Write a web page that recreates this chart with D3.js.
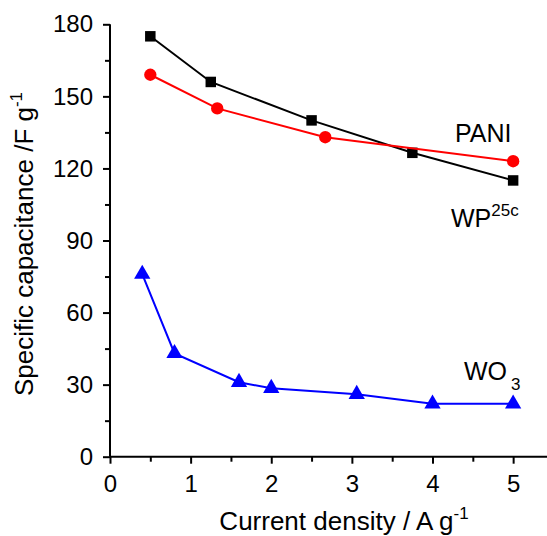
<!DOCTYPE html>
<html><head><meta charset="utf-8">
<script src="https://cdn.jsdelivr.net/npm/d3@7"></script>
<style>html,body{margin:0;padding:0;background:#fff;}svg{display:block;font-family:"Liberation Sans",Arial,sans-serif;}</style>
</head><body>
<svg id="c" width="547" height="536"></svg>
<script>
const wpX = [0.5, 1.25, 2.5, 3.75, 5.0];
const wpY = [175, 156, 140, 126.5, 115];
const paniX = [0.5, 1.33, 2.67, 5.0];
const paniY = [159, 145, 133, 123];
const wo3X = [0.4, 0.8, 1.6, 2.0, 3.06, 4.0, 5.0];
const wo3Y = [76, 43, 31, 28.5, 26, 22, 22];
const xTicks = [0, 1, 2, 3, 4, 5];
const xMinor = [0.5, 1.5, 2.5, 3.5, 4.5];
const yTicks = [0, 30, 60, 90, 120, 150, 180];
const yMinor = [15, 45, 75, 105, 135, 165];

const F = '"Liberation Sans",Arial,sans-serif';
const svg = d3.select("#c");
const x = d3.scaleLinear().domain([0, 5.42]).range([110, 547]);
const y = d3.scaleLinear().domain([0, 180]).range([456.7, 24.3]);

svg.append("g").attr("transform", `translate(0,${y(0)})`)
  .call(d3.axisBottom(x).tickValues(xTicks).tickSize(7).tickPadding(11).tickFormat(d3.format("d")));
svg.append("g").attr("transform", `translate(0,${y(0)})`)
  .call(d3.axisBottom(x).tickValues(xMinor).tickSize(5).tickFormat(""));
svg.append("g").attr("transform", `translate(${x(0)},0)`)
  .call(d3.axisLeft(y).tickValues(yTicks).tickSize(7).tickPadding(10));
svg.append("g").attr("transform", `translate(${x(0)},0)`)
  .call(d3.axisLeft(y).tickValues(yMinor).tickSize(5).tickFormat(""));
svg.selectAll(".domain").remove();
svg.selectAll(".tick line").attr("stroke", "#000").attr("stroke-width", 2);
svg.selectAll(".tick text").attr("font-size", 24).attr("fill", "#000").attr("font-family", F);
svg.append("line").attr("x1", x(0)).attr("x2", 547).attr("y1", y(0)).attr("y2", y(0)).attr("stroke", "#000").attr("stroke-width", 2);
svg.append("line").attr("x1", x(0)).attr("x2", x(0)).attr("y1", y(0)).attr("y2", y(180)).attr("stroke", "#000").attr("stroke-width", 2);

const line = d3.line().x(d => x(d[0])).y(d => y(d[1]));
function series(xs, ys, color, shape, size) {
  const pts = xs.map((v, i) => [v, ys[i]]);
  svg.append("path").datum(pts).attr("d", line).attr("fill", "none").attr("stroke", color).attr("stroke-width", 2);
  svg.append("g").selectAll("path").data(pts).join("path")
    .attr("transform", d => `translate(${x(d[0])},${y(d[1])})`)
    .attr("d", d3.symbol().type(shape).size(size))
    .attr("fill", color);
}
series(wpX, wpY, "#000", d3.symbolSquare, 110);
series(paniX, paniY, "#ff0000", d3.symbolCircle, 120);
series(wo3X, wo3Y, "#0000ff", d3.symbolTriangle, 115);

svg.append("text").attr("x", 455).attr("y", 142).attr("font-size", 25).attr("font-family", F).text("PANI");
const wp = svg.append("text").attr("x", 451).attr("y", 227).attr("font-size", 25).attr("font-family", F);
wp.append("tspan").text("WP");
wp.append("tspan").attr("dy", -11).attr("font-size", 17).text("25c");
const wo = svg.append("text").attr("x", 464).attr("y", 380).attr("font-size", 25).attr("font-family", F);
wo.append("tspan").text("WO");
wo.append("tspan").attr("dx", 4).attr("dy", 10).attr("font-size", 17).text("3");

const xt = svg.append("text").attr("x", 344).attr("y", 530).attr("text-anchor", "middle").attr("font-size", 26).attr("font-family", F);
xt.append("tspan").text("Current density / A g");
xt.append("tspan").attr("dy", -11).attr("font-size", 17).text("-1");
const yt = svg.append("text").attr("transform", "translate(33,244) rotate(-90)").attr("text-anchor", "middle").attr("font-size", 26).attr("font-family", F);
yt.append("tspan").text("Specific capacitance /F g");
yt.append("tspan").attr("dy", -11).attr("font-size", 17).text("-1");
</script>
</body></html>
